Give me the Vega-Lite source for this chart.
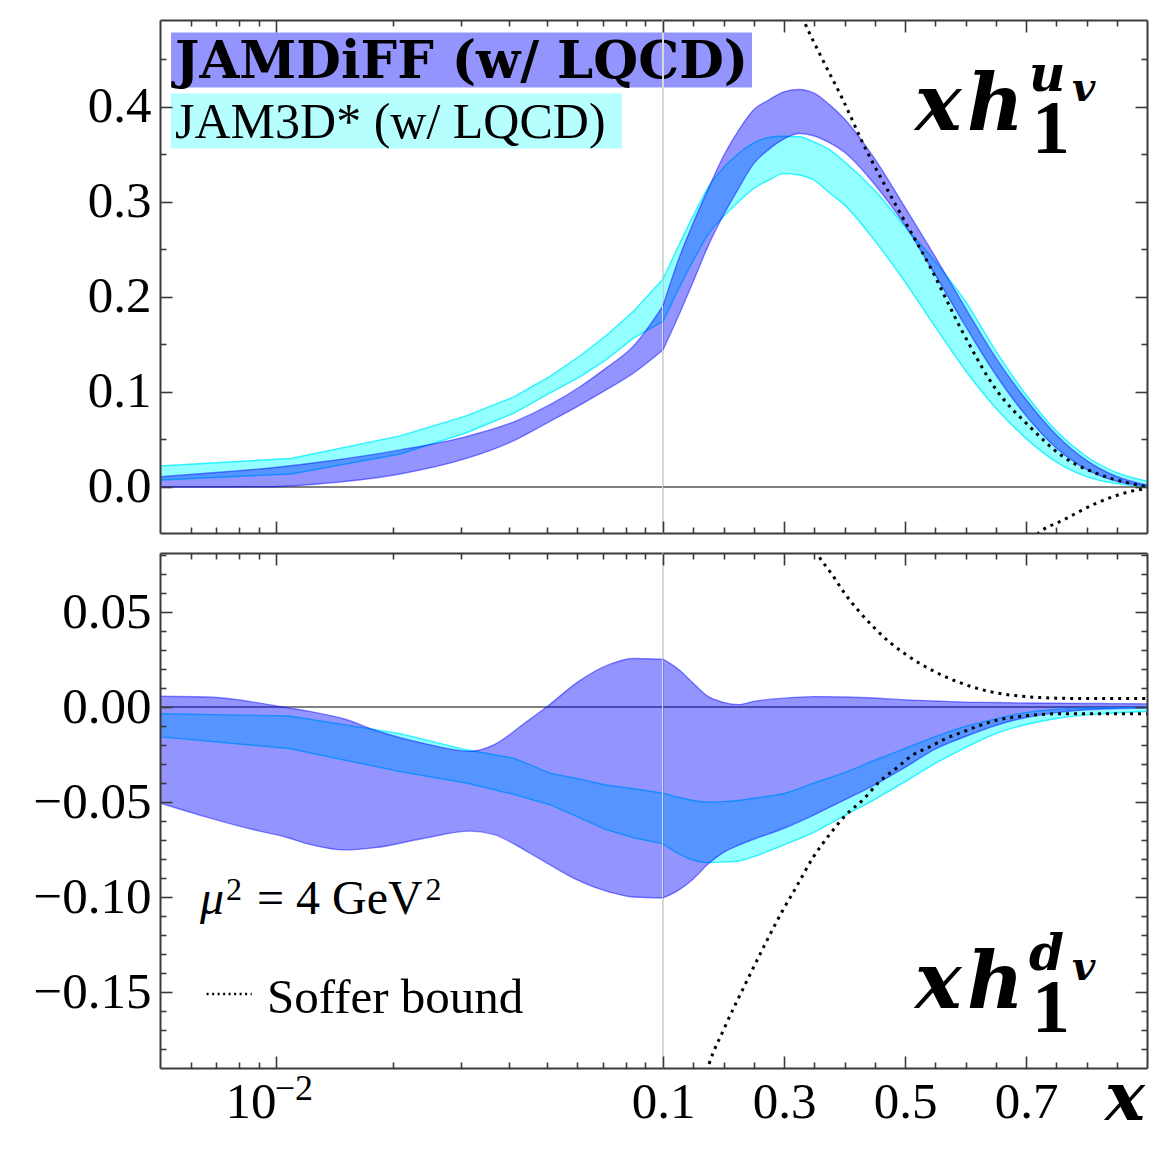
{
"$schema": "https://vega.github.io/schema/vega-lite/v6.json",
"background": "white",
"padding": {"left": 32, "top": 19, "right": 2, "bottom": 2},
"bounds": "flush",
"align": "each",
"columns": 2,
"spacing": {"row": 20, "column": 0},
"config": {
  "view": {"stroke": null},
  "axis": {"grid": false, "domainColor": "#3a3a3a", "tickColor": "#3a3a3a", "domainWidth": 2, "tickWidth": 1.6, "labelFont": "Liberation Serif", "labelFontSize": 51, "labelColor": "#000000", "labelFlush": false, "labelOverlap": false, "labelBound": false, "labelPadding": 9},
  "text": {"font": "Liberation Serif", "color": "#000000"}
},
"datasets": {
  "bands": [
    {"p":"u","s":"JAMDiFF","x":0.005,"lo":0.0,"hi":0.0108},
    {"p":"u","s":"JAMDiFF","x":0.0074,"lo":0.0,"hi":0.016},
    {"p":"u","s":"JAMDiFF","x":0.0099,"lo":0.0003,"hi":0.0205},
    {"p":"u","s":"JAMDiFF","x":0.0135,"lo":0.004,"hi":0.027},
    {"p":"u","s":"JAMDiFF","x":0.0209,"lo":0.0137,"hi":0.039},
    {"p":"u","s":"JAMDiFF","x":0.031,"lo":0.030,"hi":0.053},
    {"p":"u","s":"JAMDiFF","x":0.0413,"lo":0.049,"hi":0.0688},
    {"p":"u","s":"JAMDiFF","x":0.0509,"lo":0.0688,"hi":0.0863},
    {"p":"u","s":"JAMDiFF","x":0.0611,"lo":0.0863,"hi":0.1056},
    {"p":"u","s":"JAMDiFF","x":0.0712,"lo":0.102,"hi":0.125},
    {"p":"u","s":"JAMDiFF","x":0.0838,"lo":0.1196,"hi":0.148},
    {"p":"u","s":"JAMDiFF","x":0.1,"lo":0.144,"hi":0.1905},
    {"p":"u","s":"JAMDiFF","x":0.125,"lo":0.179,"hi":0.238},
    {"p":"u","s":"JAMDiFF","x":0.15,"lo":0.216,"hi":0.2776},
    {"p":"u","s":"JAMDiFF","x":0.175,"lo":0.254,"hi":0.3137},
    {"p":"u","s":"JAMDiFF","x":0.2,"lo":0.286,"hi":0.348},
    {"p":"u","s":"JAMDiFF","x":0.225,"lo":0.314,"hi":0.375},
    {"p":"u","s":"JAMDiFF","x":0.25,"lo":0.340,"hi":0.3966},
    {"p":"u","s":"JAMDiFF","x":0.275,"lo":0.355,"hi":0.407},
    {"p":"u","s":"JAMDiFF","x":0.3,"lo":0.366,"hi":0.4155},
    {"p":"u","s":"JAMDiFF","x":0.325,"lo":0.3716,"hi":0.418},
    {"p":"u","s":"JAMDiFF","x":0.35,"lo":0.369,"hi":0.414},
    {"p":"u","s":"JAMDiFF","x":0.375,"lo":0.362,"hi":0.402},
    {"p":"u","s":"JAMDiFF","x":0.4,"lo":0.352,"hi":0.387},
    {"p":"u","s":"JAMDiFF","x":0.45,"lo":0.318,"hi":0.345},
    {"p":"u","s":"JAMDiFF","x":0.5,"lo":0.275,"hi":0.294},
    {"p":"u","s":"JAMDiFF","x":0.55,"lo":0.223,"hi":0.242},
    {"p":"u","s":"JAMDiFF","x":0.6,"lo":0.169,"hi":0.188},
    {"p":"u","s":"JAMDiFF","x":0.65,"lo":0.118,"hi":0.136},
    {"p":"u","s":"JAMDiFF","x":0.7,"lo":0.075,"hi":0.092},
    {"p":"u","s":"JAMDiFF","x":0.75,"lo":0.041,"hi":0.055},
    {"p":"u","s":"JAMDiFF","x":0.8,"lo":0.0185,"hi":0.028},
    {"p":"u","s":"JAMDiFF","x":0.85,"lo":0.006,"hi":0.011},
    {"p":"u","s":"JAMDiFF","x":0.9,"lo":0.001,"hi":0.002},
    {"p":"u","s":"JAM3D","x":0.005,"lo":0.0074,"hi":0.0221},
    {"p":"u","s":"JAM3D","x":0.0109,"lo":0.0137,"hi":0.030},
    {"p":"u","s":"JAM3D","x":0.0209,"lo":0.0347,"hi":0.0537},
    {"p":"u","s":"JAM3D","x":0.031,"lo":0.057,"hi":0.0747},
    {"p":"u","s":"JAM3D","x":0.0413,"lo":0.078,"hi":0.095},
    {"p":"u","s":"JAM3D","x":0.0509,"lo":0.0986,"hi":0.116},
    {"p":"u","s":"JAM3D","x":0.0611,"lo":0.116,"hi":0.138},
    {"p":"u","s":"JAM3D","x":0.0712,"lo":0.1337,"hi":0.159},
    {"p":"u","s":"JAM3D","x":0.0838,"lo":0.1565,"hi":0.1846},
    {"p":"u","s":"JAM3D","x":0.1,"lo":0.174,"hi":0.2186},
    {"p":"u","s":"JAM3D","x":0.125,"lo":0.2073,"hi":0.2526},
    {"p":"u","s":"JAM3D","x":0.15,"lo":0.238,"hi":0.2851},
    {"p":"u","s":"JAM3D","x":0.175,"lo":0.266,"hi":0.3154},
    {"p":"u","s":"JAM3D","x":0.2,"lo":0.2843,"hi":0.3358},
    {"p":"u","s":"JAM3D","x":0.225,"lo":0.2999,"hi":0.3506},
    {"p":"u","s":"JAM3D","x":0.25,"lo":0.3138,"hi":0.3617},
    {"p":"u","s":"JAM3D","x":0.275,"lo":0.3228,"hi":0.3675},
    {"p":"u","s":"JAM3D","x":0.3,"lo":0.3295,"hi":0.3688},
    {"p":"u","s":"JAM3D","x":0.325,"lo":0.328,"hi":0.3683},
    {"p":"u","s":"JAM3D","x":0.35,"lo":0.3225,"hi":0.3627},
    {"p":"u","s":"JAM3D","x":0.375,"lo":0.3093,"hi":0.3547},
    {"p":"u","s":"JAM3D","x":0.4,"lo":0.2966,"hi":0.342},
    {"p":"u","s":"JAM3D","x":0.45,"lo":0.259,"hi":0.3117},
    {"p":"u","s":"JAM3D","x":0.5,"lo":0.2156,"hi":0.2739},
    {"p":"u","s":"JAM3D","x":0.55,"lo":0.1683,"hi":0.237},
    {"p":"u","s":"JAM3D","x":0.6,"lo":0.1225,"hi":0.195},
    {"p":"u","s":"JAM3D","x":0.65,"lo":0.0831,"hi":0.143},
    {"p":"u","s":"JAM3D","x":0.7,"lo":0.0511,"hi":0.097},
    {"p":"u","s":"JAM3D","x":0.75,"lo":0.0264,"hi":0.059},
    {"p":"u","s":"JAM3D","x":0.8,"lo":0.0109,"hi":0.032},
    {"p":"u","s":"JAM3D","x":0.85,"lo":0.0035,"hi":0.015},
    {"p":"u","s":"JAM3D","x":0.9,"lo":0.0004,"hi":0.006},
    {"p":"d","s":"JAMDiFF","x":0.005,"lo":-0.0505,"hi":0.0057},
    {"p":"d","s":"JAMDiFF","x":0.0067,"lo":-0.0583,"hi":0.0053},
    {"p":"d","s":"JAMDiFF","x":0.009,"lo":-0.0652,"hi":0.0022},
    {"p":"d","s":"JAMDiFF","x":0.0104,"lo":-0.068,"hi":0.0},
    {"p":"d","s":"JAMDiFF","x":0.0122,"lo":-0.0723,"hi":-0.0023},
    {"p":"d","s":"JAMDiFF","x":0.015,"lo":-0.0752,"hi":-0.0063},
    {"p":"d","s":"JAMDiFF","x":0.018,"lo":-0.074,"hi":-0.0122},
    {"p":"d","s":"JAMDiFF","x":0.0245,"lo":-0.0688,"hi":-0.0195},
    {"p":"d","s":"JAMDiFF","x":0.0316,"lo":-0.0653,"hi":-0.0233},
    {"p":"d","s":"JAMDiFF","x":0.0364,"lo":-0.067,"hi":-0.020},
    {"p":"d","s":"JAMDiFF","x":0.0443,"lo":-0.0758,"hi":-0.0078},
    {"p":"d","s":"JAMDiFF","x":0.05,"lo":-0.082,"hi":0.0},
    {"p":"d","s":"JAMDiFF","x":0.06,"lo":-0.091,"hi":0.013},
    {"p":"d","s":"JAMDiFF","x":0.073,"lo":-0.0975,"hi":0.0226},
    {"p":"d","s":"JAMDiFF","x":0.0837,"lo":-0.1,"hi":0.0256},
    {"p":"d","s":"JAMDiFF","x":0.1,"lo":-0.1005,"hi":0.0252},
    {"p":"d","s":"JAMDiFF","x":0.125,"lo":-0.0965,"hi":0.020},
    {"p":"d","s":"JAMDiFF","x":0.15,"lo":-0.0905,"hi":0.0125},
    {"p":"d","s":"JAMDiFF","x":0.175,"lo":-0.0825,"hi":0.0055},
    {"p":"d","s":"JAMDiFF","x":0.2,"lo":-0.0765,"hi":0.0025},
    {"p":"d","s":"JAMDiFF","x":0.225,"lo":-0.0727,"hi":0.0013},
    {"p":"d","s":"JAMDiFF","x":0.25,"lo":-0.0696,"hi":0.003},
    {"p":"d","s":"JAMDiFF","x":0.3,"lo":-0.0638,"hi":0.0047},
    {"p":"d","s":"JAMDiFF","x":0.35,"lo":-0.0567,"hi":0.0055},
    {"p":"d","s":"JAMDiFF","x":0.4,"lo":-0.0489,"hi":0.0053},
    {"p":"d","s":"JAMDiFF","x":0.45,"lo":-0.0409,"hi":0.0048},
    {"p":"d","s":"JAMDiFF","x":0.5,"lo":-0.0318,"hi":0.0038},
    {"p":"d","s":"JAMDiFF","x":0.55,"lo":-0.0221,"hi":0.0032},
    {"p":"d","s":"JAMDiFF","x":0.6,"lo":-0.0155,"hi":0.0026},
    {"p":"d","s":"JAMDiFF","x":0.65,"lo":-0.0097,"hi":0.0024},
    {"p":"d","s":"JAMDiFF","x":0.7,"lo":-0.0055,"hi":0.0021},
    {"p":"d","s":"JAMDiFF","x":0.75,"lo":-0.0029,"hi":0.002},
    {"p":"d","s":"JAMDiFF","x":0.8,"lo":-0.0014,"hi":0.0019},
    {"p":"d","s":"JAMDiFF","x":0.85,"lo":-0.0008,"hi":0.0018},
    {"p":"d","s":"JAMDiFF","x":0.9,"lo":-0.0005,"hi":0.0017},
    {"p":"d","s":"JAM3D","x":0.005,"lo":-0.0157,"hi":-0.0035},
    {"p":"d","s":"JAM3D","x":0.0108,"lo":-0.0218,"hi":-0.0047},
    {"p":"d","s":"JAM3D","x":0.0209,"lo":-0.034,"hi":-0.014},
    {"p":"d","s":"JAM3D","x":0.031,"lo":-0.040,"hi":-0.0225},
    {"p":"d","s":"JAM3D","x":0.0413,"lo":-0.0461,"hi":-0.027},
    {"p":"d","s":"JAM3D","x":0.051,"lo":-0.0514,"hi":-0.0348},
    {"p":"d","s":"JAM3D","x":0.061,"lo":-0.0583,"hi":-0.038},
    {"p":"d","s":"JAM3D","x":0.071,"lo":-0.0644,"hi":-0.041},
    {"p":"d","s":"JAM3D","x":0.084,"lo":-0.0688,"hi":-0.043},
    {"p":"d","s":"JAM3D","x":0.1,"lo":-0.072,"hi":-0.0453},
    {"p":"d","s":"JAM3D","x":0.125,"lo":-0.077,"hi":-0.0475},
    {"p":"d","s":"JAM3D","x":0.15,"lo":-0.0805,"hi":-0.0492},
    {"p":"d","s":"JAM3D","x":0.175,"lo":-0.0819,"hi":-0.05},
    {"p":"d","s":"JAM3D","x":0.2,"lo":-0.0815,"hi":-0.0498},
    {"p":"d","s":"JAM3D","x":0.225,"lo":-0.081,"hi":-0.0492},
    {"p":"d","s":"JAM3D","x":0.25,"lo":-0.0787,"hi":-0.048},
    {"p":"d","s":"JAM3D","x":0.3,"lo":-0.0725,"hi":-0.0455},
    {"p":"d","s":"JAM3D","x":0.35,"lo":-0.0658,"hi":-0.0399},
    {"p":"d","s":"JAM3D","x":0.4,"lo":-0.0571,"hi":-0.0345},
    {"p":"d","s":"JAM3D","x":0.45,"lo":-0.0486,"hi":-0.028},
    {"p":"d","s":"JAM3D","x":0.5,"lo":-0.0393,"hi":-0.0218},
    {"p":"d","s":"JAM3D","x":0.55,"lo":-0.0296,"hi":-0.0156},
    {"p":"d","s":"JAM3D","x":0.6,"lo":-0.0213,"hi":-0.0102},
    {"p":"d","s":"JAM3D","x":0.65,"lo":-0.014,"hi":-0.0062},
    {"p":"d","s":"JAM3D","x":0.7,"lo":-0.0092,"hi":-0.0029},
    {"p":"d","s":"JAM3D","x":0.75,"lo":-0.006,"hi":-0.0012},
    {"p":"d","s":"JAM3D","x":0.8,"lo":-0.0041,"hi":-0.0006},
    {"p":"d","s":"JAM3D","x":0.85,"lo":-0.003,"hi":-0.0003},
    {"p":"d","s":"JAM3D","x":0.9,"lo":-0.0023,"hi":0.0}
  ],
  "soffer": [
    {"p":"u","c":"up","x":0.32,"y":0.51},
    {"p":"u","c":"up","x":0.333,"y":0.49},
    {"p":"u","c":"up","x":0.364,"y":0.449},
    {"p":"u","c":"up","x":0.3975,"y":0.407},
    {"p":"u","c":"up","x":0.43,"y":0.362},
    {"p":"u","c":"up","x":0.486,"y":0.295},
    {"p":"u","c":"up","x":0.541,"y":0.232},
    {"p":"u","c":"up","x":0.596,"y":0.162},
    {"p":"u","c":"up","x":0.651,"y":0.102},
    {"p":"u","c":"up","x":0.706,"y":0.0635},
    {"p":"u","c":"up","x":0.761,"y":0.032},
    {"p":"u","c":"up","x":0.816,"y":0.0144},
    {"p":"u","c":"up","x":0.871,"y":0.0039},
    {"p":"u","c":"up","x":0.9,"y":0.0003},
    {"p":"u","c":"dn","x":0.7,"y":-0.062},
    {"p":"u","c":"dn","x":0.7215,"y":-0.048},
    {"p":"u","c":"dn","x":0.761,"y":-0.035},
    {"p":"u","c":"dn","x":0.816,"y":-0.0172},
    {"p":"u","c":"dn","x":0.871,"y":-0.005},
    {"p":"u","c":"dn","x":0.9,"y":-0.0014},
    {"p":"d","c":"up","x":0.34,"y":0.09},
    {"p":"d","c":"up","x":0.3545,"y":0.081},
    {"p":"d","c":"up","x":0.38,"y":0.0695},
    {"p":"d","c":"up","x":0.4,"y":0.06},
    {"p":"d","c":"up","x":0.425,"y":0.05},
    {"p":"d","c":"up","x":0.45,"y":0.0415},
    {"p":"d","c":"up","x":0.475,"y":0.034},
    {"p":"d","c":"up","x":0.5,"y":0.028},
    {"p":"d","c":"up","x":0.55,"y":0.0185},
    {"p":"d","c":"up","x":0.6,"y":0.0118},
    {"p":"d","c":"up","x":0.65,"y":0.0075},
    {"p":"d","c":"up","x":0.7,"y":0.0055},
    {"p":"d","c":"up","x":0.75,"y":0.0047},
    {"p":"d","c":"up","x":0.8,"y":0.0045},
    {"p":"d","c":"up","x":0.9,"y":0.0045},
    {"p":"d","c":"dn","x":0.165,"y":-0.2},
    {"p":"d","c":"dn","x":0.176,"y":-0.188},
    {"p":"d","c":"dn","x":0.2,"y":-0.17},
    {"p":"d","c":"dn","x":0.242,"y":-0.142},
    {"p":"d","c":"dn","x":0.27,"y":-0.124},
    {"p":"d","c":"dn","x":0.298,"y":-0.107},
    {"p":"d","c":"dn","x":0.32,"y":-0.0949},
    {"p":"d","c":"dn","x":0.348,"y":-0.0792},
    {"p":"d","c":"dn","x":0.3755,"y":-0.067},
    {"p":"d","c":"dn","x":0.403,"y":-0.0566},
    {"p":"d","c":"dn","x":0.4306,"y":-0.0488},
    {"p":"d","c":"dn","x":0.458,"y":-0.0392},
    {"p":"d","c":"dn","x":0.4856,"y":-0.0322},
    {"p":"d","c":"dn","x":0.513,"y":-0.0252},
    {"p":"d","c":"dn","x":0.541,"y":-0.0209},
    {"p":"d","c":"dn","x":0.568,"y":-0.0165},
    {"p":"d","c":"dn","x":0.596,"y":-0.013},
    {"p":"d","c":"dn","x":0.651,"y":-0.007},
    {"p":"d","c":"dn","x":0.706,"y":-0.0044},
    {"p":"d","c":"dn","x":0.761,"y":-0.0035},
    {"p":"d","c":"dn","x":0.9,"y":-0.0035}
  ]
},
"concat": [
{
  "width": 503, "height": 513,
  "resolve": {"axis": {"x": "independent", "y": "independent"}},
  "layer": [
    {"data": {"values": [{}]}, "mark": {"type": "rule", "color": "#808080", "strokeWidth": 2},
     "encoding": {"y": {"datum": 0, "type": "quantitative", "scale": {"type": "linear", "domain": [-0.0484, 0.491], "nice": false, "zero": false}, "axis": null}}},
    {"data": {"name": "bands"}, "transform": [{"filter": "datum.p=='u' && datum.s=='JAM3D' && datum.x<=0.1"}],
     "mark": {"type": "area", "color": "#00ffff", "opacity": 0.42, "interpolate": "linear"},
     "encoding": {
       "x": {"field": "x", "type": "quantitative", "scale": {"type": "log", "domain": [0.005, 0.1], "nice": false}, "axis": {"orient": "bottom", "values": [0.01], "labels": false, "tickSize": -12, "domain": true, "title": null, "zindex": 1}},
       "y": {"field": "lo", "type": "quantitative", "scale": {"type": "linear", "domain": [-0.0484, 0.491], "nice": false, "zero": false}, "axis": {"orient": "left", "values": [0, 0.1, 0.2, 0.3, 0.4], "labels": false, "tickSize": -12, "domain": true, "title": null, "zindex": 1}},
       "y2": {"field": "hi"}}},
    {"data": {"name": "bands"}, "transform": [{"filter": "datum.p=='u' && datum.s=='JAM3D' && datum.x<=0.1"}, {"fold": ["lo", "hi"], "as": ["k", "v"]}],
     "mark": {"type": "line", "color": "#00f0ff", "opacity": 0.8, "strokeWidth": 1.4, "interpolate": "linear"},
     "encoding": {
       "x": {"field": "x", "type": "quantitative", "scale": {"type": "log", "domain": [0.005, 0.1], "nice": false}, "axis": {"orient": "bottom", "values": [0.006, 0.007, 0.008, 0.009, 0.02, 0.03, 0.04, 0.05, 0.06, 0.07, 0.08, 0.09], "labels": false, "tickSize": -6, "domain": false, "title": null, "zindex": 1}},
       "y": {"field": "v", "type": "quantitative", "scale": {"type": "linear", "domain": [-0.0484, 0.491], "nice": false, "zero": false}, "axis": {"orient": "left", "values": [0.05, 0.15, 0.25, 0.35, 0.45], "labels": false, "tickSize": -6, "domain": false, "title": null, "zindex": 1}},
       "detail": {"field": "k"}}},
    {"data": {"name": "bands"}, "transform": [{"filter": "datum.p=='u' && datum.s=='JAMDiFF' && datum.x<=0.1"}],
     "mark": {"type": "area", "color": "#0000ff", "opacity": 0.42, "interpolate": "monotone"},
     "encoding": {
       "x": {"field": "x", "type": "quantitative", "scale": {"type": "log", "domain": [0.005, 0.1], "nice": false}, "axis": {"orient": "top", "values": [0.01], "labels": false, "tickSize": -12, "domain": true, "title": null, "zindex": 1}},
       "y": {"field": "lo", "type": "quantitative", "scale": {"type": "linear", "domain": [-0.0484, 0.491], "nice": false, "zero": false}, "axis": {"orient": "left", "values": [0, 0.1, 0.2, 0.3, 0.4], "format": ".1f", "ticks": false, "domain": false, "title": null}},
       "y2": {"field": "hi"}}},
    {"data": {"name": "bands"}, "transform": [{"filter": "datum.p=='u' && datum.s=='JAMDiFF' && datum.x<=0.1"}, {"fold": ["lo", "hi"], "as": ["k", "v"]}],
     "mark": {"type": "line", "color": "#0000ff", "opacity": 0.45, "strokeWidth": 1.4, "interpolate": "monotone"},
     "encoding": {
       "x": {"field": "x", "type": "quantitative", "scale": {"type": "log", "domain": [0.005, 0.1], "nice": false}, "axis": {"orient": "top", "values": [0.006, 0.007, 0.008, 0.009, 0.02, 0.03, 0.04, 0.05, 0.06, 0.07, 0.08, 0.09], "labels": false, "tickSize": -6, "domain": false, "title": null, "zindex": 1}},
       "y": {"field": "v", "type": "quantitative", "scale": {"type": "linear", "domain": [-0.0484, 0.491], "nice": false, "zero": false}, "axis": null},
       "detail": {"field": "k"}}},
    {"data": {"values": [{}]}, "mark": {"type": "rect", "color": "#0000ff", "opacity": 0.42},
     "encoding": {"x": {"datum": 0.00534, "type": "quantitative", "scale": {"type": "log", "domain": [0.005, 0.1], "nice": false}, "axis": null}, "x2": {"datum": 0.1699},
       "y": {"datum": 0.4779, "type": "quantitative", "scale": {"type": "linear", "domain": [-0.0484, 0.491], "nice": false, "zero": false}, "axis": null}, "y2": {"datum": 0.42}}},
    {"data": {"values": [{}]}, "mark": {"type": "rect", "color": "#00ffff", "opacity": 0.29},
     "encoding": {"x": {"datum": 0.00534, "type": "quantitative", "scale": {"type": "log", "domain": [0.005, 0.1], "nice": false}, "axis": null}, "x2": {"datum": 0.07834},
       "y": {"datum": 0.4137, "type": "quantitative", "scale": {"type": "linear", "domain": [-0.0484, 0.491], "nice": false, "zero": false}, "axis": null}, "y2": {"datum": 0.3558}}},
    {"data": {"values": [{}]}, "mark": {"type": "text", "text": "JAMDiFF (w/ LQCD)", "font": "DejaVu Serif", "fontSize": 51.5, "fontWeight": "bold", "align": "left", "baseline": "alphabetic"},
     "encoding": {"x": {"datum": 0.005468, "type": "quantitative", "scale": {"type": "log", "domain": [0.005, 0.1], "nice": false}, "axis": null},
       "y": {"datum": 0.4305, "type": "quantitative", "scale": {"type": "linear", "domain": [-0.0484, 0.491], "nice": false, "zero": false}, "axis": null}}},
    {"data": {"values": [{}]}, "mark": {"type": "text", "text": "JAM3D* (w/ LQCD)", "fontSize": 50, "align": "left", "baseline": "alphabetic"},
     "encoding": {"x": {"datum": 0.005468, "type": "quantitative", "scale": {"type": "log", "domain": [0.005, 0.1], "nice": false}, "axis": null},
       "y": {"datum": 0.3674, "type": "quantitative", "scale": {"type": "linear", "domain": [-0.0484, 0.491], "nice": false, "zero": false}, "axis": null}}}
  ]
},
{
  "width": 484, "height": 513,
  "resolve": {"axis": {"x": "independent", "y": "independent"}},
  "layer": [
    {"data": {"values": [{}]}, "mark": {"type": "rule", "color": "#d8d8d8", "strokeWidth": 2},
     "encoding": {"x": {"datum": 0.1, "type": "quantitative", "scale": {"type": "linear", "domain": [0.1, 0.9], "nice": false, "zero": false}, "axis": null}}},
    {"data": {"values": [{}]}, "mark": {"type": "rule", "color": "#808080", "strokeWidth": 2},
     "encoding": {"y": {"datum": 0, "type": "quantitative", "scale": {"type": "linear", "domain": [-0.0484, 0.491], "nice": false, "zero": false}, "axis": null}}},
    {"data": {"name": "bands"}, "transform": [{"filter": "datum.p=='u' && datum.s=='JAM3D' && datum.x>=0.1"}],
     "mark": {"type": "area", "color": "#00ffff", "opacity": 0.42, "interpolate": "monotone"},
     "encoding": {
       "x": {"field": "x", "type": "quantitative", "scale": {"type": "linear", "domain": [0.1, 0.9], "nice": false, "zero": false}, "axis": {"orient": "bottom", "values": [0.1, 0.3, 0.5, 0.7], "labels": false, "tickSize": -12, "domain": true, "title": null, "zindex": 1}},
       "y": {"field": "lo", "type": "quantitative", "scale": {"type": "linear", "domain": [-0.0484, 0.491], "nice": false, "zero": false}, "axis": {"orient": "right", "values": [0, 0.1, 0.2, 0.3, 0.4], "labels": false, "tickSize": -12, "domain": true, "title": null, "zindex": 1}},
       "y2": {"field": "hi"}}},
    {"data": {"name": "bands"}, "transform": [{"filter": "datum.p=='u' && datum.s=='JAM3D' && datum.x>=0.1"}, {"fold": ["lo", "hi"], "as": ["k", "v"]}],
     "mark": {"type": "line", "color": "#00f0ff", "opacity": 0.8, "strokeWidth": 1.4, "interpolate": "monotone"},
     "encoding": {
       "x": {"field": "x", "type": "quantitative", "scale": {"type": "linear", "domain": [0.1, 0.9], "nice": false, "zero": false}, "axis": {"orient": "bottom", "values": [0.15, 0.2, 0.25, 0.35, 0.4, 0.45, 0.55, 0.6, 0.65, 0.75, 0.8, 0.85], "labels": false, "tickSize": -6, "domain": false, "title": null, "zindex": 1}},
       "y": {"field": "v", "type": "quantitative", "scale": {"type": "linear", "domain": [-0.0484, 0.491], "nice": false, "zero": false}, "axis": {"orient": "right", "values": [0.05, 0.15, 0.25, 0.35, 0.45], "labels": false, "tickSize": -6, "domain": false, "title": null, "zindex": 1}},
       "detail": {"field": "k"}}},
    {"data": {"name": "bands"}, "transform": [{"filter": "datum.p=='u' && datum.s=='JAMDiFF' && datum.x>=0.1"}],
     "mark": {"type": "area", "color": "#0000ff", "opacity": 0.42, "interpolate": "monotone"},
     "encoding": {
       "x": {"field": "x", "type": "quantitative", "scale": {"type": "linear", "domain": [0.1, 0.9], "nice": false, "zero": false}, "axis": {"orient": "top", "values": [0.1, 0.3, 0.5, 0.7], "labels": false, "tickSize": -12, "domain": true, "title": null, "zindex": 1}},
       "y": {"field": "lo", "type": "quantitative", "scale": {"type": "linear", "domain": [-0.0484, 0.491], "nice": false, "zero": false}, "axis": null},
       "y2": {"field": "hi"}}},
    {"data": {"name": "bands"}, "transform": [{"filter": "datum.p=='u' && datum.s=='JAMDiFF' && datum.x>=0.1"}, {"fold": ["lo", "hi"], "as": ["k", "v"]}],
     "mark": {"type": "line", "color": "#0000ff", "opacity": 0.45, "strokeWidth": 1.4, "interpolate": "monotone"},
     "encoding": {
       "x": {"field": "x", "type": "quantitative", "scale": {"type": "linear", "domain": [0.1, 0.9], "nice": false, "zero": false}, "axis": {"orient": "top", "values": [0.15, 0.2, 0.25, 0.35, 0.4, 0.45, 0.55, 0.6, 0.65, 0.75, 0.8, 0.85], "labels": false, "tickSize": -6, "domain": false, "title": null, "zindex": 1}},
       "y": {"field": "v", "type": "quantitative", "scale": {"type": "linear", "domain": [-0.0484, 0.491], "nice": false, "zero": false}, "axis": null},
       "detail": {"field": "k"}}},
    {"data": {"name": "soffer"}, "transform": [{"filter": "datum.p=='u'"}],
     "mark": {"type": "line", "color": "#000000", "strokeWidth": 3, "strokeDash": [3, 5], "interpolate": "monotone", "clip": true},
     "encoding": {
       "x": {"field": "x", "type": "quantitative", "scale": {"type": "linear", "domain": [0.1, 0.9], "nice": false, "zero": false}, "axis": null},
       "y": {"field": "y", "type": "quantitative", "scale": {"type": "linear", "domain": [-0.0484, 0.491], "nice": false, "zero": false}, "axis": null},
       "detail": {"field": "c"}}},
    {"data": {"values": [{}]}, "mark": {"type": "text", "text": "x", "font": "DejaVu Serif", "fontSize": 78, "fontWeight": "bold", "fontStyle": "italic", "align": "left", "baseline": "alphabetic"},
     "encoding": {"x": {"datum": 0.5165, "type": "quantitative", "scale": {"type": "linear", "domain": [0.1, 0.9], "nice": false, "zero": false}, "axis": null},
       "y": {"datum": 0.3758, "type": "quantitative", "scale": {"type": "linear", "domain": [-0.0484, 0.491], "nice": false, "zero": false}, "axis": null}}},
    {"data": {"values": [{}]}, "mark": {"type": "text", "text": "h", "font": "DejaVu Serif", "fontSize": 78, "fontWeight": "bold", "fontStyle": "italic", "align": "left", "baseline": "alphabetic"},
     "encoding": {"x": {"datum": 0.6025, "type": "quantitative", "scale": {"type": "linear", "domain": [0.1, 0.9], "nice": false, "zero": false}, "axis": null},
       "y": {"datum": 0.3758, "type": "quantitative", "scale": {"type": "linear", "domain": [-0.0484, 0.491], "nice": false, "zero": false}, "axis": null}}},
    {"data": {"values": [{}]}, "mark": {"type": "text", "text": "1", "fontSize": 76, "fontWeight": "bold", "align": "left", "baseline": "alphabetic"},
     "encoding": {"x": {"datum": 0.71, "type": "quantitative", "scale": {"type": "linear", "domain": [0.1, 0.9], "nice": false, "zero": false}, "axis": null},
       "y": {"datum": 0.3513, "type": "quantitative", "scale": {"type": "linear", "domain": [-0.0484, 0.491], "nice": false, "zero": false}, "axis": null}}},
    {"data": {"values": [{}]}, "mark": {"type": "text", "text": "u", "font": "DejaVu Serif", "fontSize": 50, "fontWeight": "bold", "fontStyle": "italic", "align": "left", "baseline": "alphabetic"},
     "encoding": {"x": {"datum": 0.705, "type": "quantitative", "scale": {"type": "linear", "domain": [0.1, 0.9], "nice": false, "zero": false}, "axis": null},
       "y": {"datum": 0.4161, "type": "quantitative", "scale": {"type": "linear", "domain": [-0.0484, 0.491], "nice": false, "zero": false}, "axis": null}}},
    {"data": {"values": [{}]}, "mark": {"type": "text", "text": "v", "font": "DejaVu Serif", "fontSize": 40, "fontWeight": "bold", "fontStyle": "italic", "align": "left", "baseline": "alphabetic"},
     "encoding": {"x": {"datum": 0.776, "type": "quantitative", "scale": {"type": "linear", "domain": [0.1, 0.9], "nice": false, "zero": false}, "axis": null},
       "y": {"datum": 0.4056, "type": "quantitative", "scale": {"type": "linear", "domain": [-0.0484, 0.491], "nice": false, "zero": false}, "axis": null}}}
  ]
},
{
  "width": 503, "height": 515,
  "resolve": {"axis": {"x": "independent", "y": "independent"}},
  "layer": [
    {"data": {"values": [{}]}, "mark": {"type": "rule", "color": "#808080", "strokeWidth": 2},
     "encoding": {"y": {"datum": 0, "type": "quantitative", "scale": {"type": "linear", "domain": [-0.19, 0.0811], "nice": false, "zero": false}, "axis": null}}},
    {"data": {"name": "bands"}, "transform": [{"filter": "datum.p=='d' && datum.s=='JAM3D' && datum.x<=0.1"}],
     "mark": {"type": "area", "color": "#00ffff", "opacity": 0.42, "interpolate": "linear"},
     "encoding": {
       "x": {"field": "x", "type": "quantitative", "scale": {"type": "log", "domain": [0.005, 0.1], "nice": false}, "axis": {"orient": "bottom", "values": [0.01], "labels": false, "tickSize": -12, "domain": true, "title": null, "zindex": 1}},
       "y": {"field": "lo", "type": "quantitative", "scale": {"type": "linear", "domain": [-0.19, 0.0811], "nice": false, "zero": false}, "axis": {"orient": "left", "values": [-0.15, -0.1, -0.05, 0, 0.05], "labels": false, "tickSize": -12, "domain": true, "title": null, "zindex": 1}},
       "y2": {"field": "hi"}}},
    {"data": {"name": "bands"}, "transform": [{"filter": "datum.p=='d' && datum.s=='JAM3D' && datum.x<=0.1"}, {"fold": ["lo", "hi"], "as": ["k", "v"]}],
     "mark": {"type": "line", "color": "#00f0ff", "opacity": 0.8, "strokeWidth": 1.4, "interpolate": "linear"},
     "encoding": {
       "x": {"field": "x", "type": "quantitative", "scale": {"type": "log", "domain": [0.005, 0.1], "nice": false}, "axis": {"orient": "bottom", "values": [0.006, 0.007, 0.008, 0.009, 0.02, 0.03, 0.04, 0.05, 0.06, 0.07, 0.08, 0.09], "labels": false, "tickSize": -6, "domain": false, "title": null, "zindex": 1}},
       "y": {"field": "v", "type": "quantitative", "scale": {"type": "linear", "domain": [-0.19, 0.0811], "nice": false, "zero": false}, "axis": {"orient": "left", "values": [-0.18, -0.17, -0.16, -0.14, -0.13, -0.12, -0.11, -0.09, -0.08, -0.07, -0.06, -0.04, -0.03, -0.02, -0.01, 0.01, 0.02, 0.03, 0.04, 0.06, 0.07, 0.08], "labels": false, "tickSize": -6, "domain": false, "title": null, "zindex": 1}},
       "detail": {"field": "k"}}},
    {"data": {"name": "bands"}, "transform": [{"filter": "datum.p=='d' && datum.s=='JAMDiFF' && datum.x<=0.1"}],
     "mark": {"type": "area", "color": "#0000ff", "opacity": 0.42, "interpolate": "monotone"},
     "encoding": {
       "x": {"field": "x", "type": "quantitative", "scale": {"type": "log", "domain": [0.005, 0.1], "nice": false}, "axis": {"orient": "top", "values": [0.01], "labels": false, "tickSize": -12, "domain": true, "title": null, "zindex": 1}},
       "y": {"field": "lo", "type": "quantitative", "scale": {"type": "linear", "domain": [-0.19, 0.0811], "nice": false, "zero": false}, "axis": {"orient": "left", "values": [-0.15, -0.1, -0.05, 0, 0.05], "format": ".2f", "ticks": false, "domain": false, "title": null}},
       "y2": {"field": "hi"}}},
    {"data": {"name": "bands"}, "transform": [{"filter": "datum.p=='d' && datum.s=='JAMDiFF' && datum.x<=0.1"}, {"fold": ["lo", "hi"], "as": ["k", "v"]}],
     "mark": {"type": "line", "color": "#0000ff", "opacity": 0.45, "strokeWidth": 1.4, "interpolate": "monotone"},
     "encoding": {
       "x": {"field": "x", "type": "quantitative", "scale": {"type": "log", "domain": [0.005, 0.1], "nice": false}, "axis": {"orient": "top", "values": [0.006, 0.007, 0.008, 0.009, 0.02, 0.03, 0.04, 0.05, 0.06, 0.07, 0.08, 0.09], "labels": false, "tickSize": -6, "domain": false, "title": null, "zindex": 1}},
       "y": {"field": "v", "type": "quantitative", "scale": {"type": "linear", "domain": [-0.19, 0.0811], "nice": false, "zero": false}, "axis": null},
       "detail": {"field": "k"}}},
    {"data": {"values": [{}]}, "mark": {"type": "rule", "color": "#000000", "strokeWidth": 2.5, "strokeDash": [2, 3.5]},
     "encoding": {"x": {"datum": 0.0066, "type": "quantitative", "scale": {"type": "log", "domain": [0.005, 0.1], "nice": false}, "axis": {"orient": "bottom", "values": [0.01], "ticks": false, "domain": false, "labelExpr": "'10'", "labelOffset": -26, "title": null}},
       "x2": {"datum": 0.008634},
       "y": {"datum": -0.151, "type": "quantitative", "scale": {"type": "linear", "domain": [-0.19, 0.0811], "nice": false, "zero": false}, "axis": null}}},
    {"data": {"values": [{}]}, "mark": {"type": "text", "text": "−2", "fontSize": 36, "align": "left", "baseline": "alphabetic"},
     "encoding": {"x": {"datum": 0.0099, "type": "quantitative", "scale": {"type": "log", "domain": [0.005, 0.1], "nice": false}, "axis": null},
       "y": {"datum": -0.2068, "type": "quantitative", "scale": {"type": "linear", "domain": [-0.19, 0.0811], "nice": false, "zero": false}, "axis": null}}},
    {"data": {"values": [{}]}, "mark": {"type": "text", "text": "μ", "fontSize": 48, "fontStyle": "italic", "align": "left", "baseline": "alphabetic"},
     "encoding": {"x": {"datum": 0.006345, "type": "quantitative", "scale": {"type": "log", "domain": [0.005, 0.1], "nice": false}, "axis": null},
       "y": {"datum": -0.1089, "type": "quantitative", "scale": {"type": "linear", "domain": [-0.19, 0.0811], "nice": false, "zero": false}, "axis": null}}},
    {"data": {"values": [{}]}, "mark": {"type": "text", "text": "2", "fontSize": 32, "align": "left", "baseline": "alphabetic"},
     "encoding": {"x": {"datum": 0.007409, "type": "quantitative", "scale": {"type": "log", "domain": [0.005, 0.1], "nice": false}, "axis": null},
       "y": {"datum": -0.1016, "type": "quantitative", "scale": {"type": "linear", "domain": [-0.19, 0.0811], "nice": false, "zero": false}, "axis": null}}},
    {"data": {"values": [{}]}, "mark": {"type": "text", "text": "= 4 GeV", "fontSize": 48, "align": "left", "baseline": "alphabetic"},
     "encoding": {"x": {"datum": 0.008911, "type": "quantitative", "scale": {"type": "log", "domain": [0.005, 0.1], "nice": false}, "axis": null},
       "y": {"datum": -0.1089, "type": "quantitative", "scale": {"type": "linear", "domain": [-0.19, 0.0811], "nice": false, "zero": false}, "axis": null}}},
    {"data": {"values": [{}]}, "mark": {"type": "text", "text": "2", "fontSize": 32, "align": "left", "baseline": "alphabetic"},
     "encoding": {"x": {"datum": 0.02432, "type": "quantitative", "scale": {"type": "log", "domain": [0.005, 0.1], "nice": false}, "axis": null},
       "y": {"datum": -0.1016, "type": "quantitative", "scale": {"type": "linear", "domain": [-0.19, 0.0811], "nice": false, "zero": false}, "axis": null}}},
    {"data": {"values": [{}]}, "mark": {"type": "text", "text": "Soffer bound", "fontSize": 49, "align": "left", "baseline": "alphabetic"},
     "encoding": {"x": {"datum": 0.009457, "type": "quantitative", "scale": {"type": "log", "domain": [0.005, 0.1], "nice": false}, "axis": null},
       "y": {"datum": -0.1609, "type": "quantitative", "scale": {"type": "linear", "domain": [-0.19, 0.0811], "nice": false, "zero": false}, "axis": null}}}
  ]
},
{
  "width": 484, "height": 515,
  "resolve": {"axis": {"x": "independent", "y": "independent"}},
  "layer": [
    {"data": {"values": [{}]}, "mark": {"type": "rule", "color": "#d8d8d8", "strokeWidth": 2},
     "encoding": {"x": {"datum": 0.1, "type": "quantitative", "scale": {"type": "linear", "domain": [0.1, 0.9], "nice": false, "zero": false}, "axis": null}}},
    {"data": {"values": [{}]}, "mark": {"type": "rule", "color": "#808080", "strokeWidth": 2},
     "encoding": {"y": {"datum": 0, "type": "quantitative", "scale": {"type": "linear", "domain": [-0.19, 0.0811], "nice": false, "zero": false}, "axis": null}}},
    {"data": {"name": "bands"}, "transform": [{"filter": "datum.p=='d' && datum.s=='JAM3D' && datum.x>=0.1"}],
     "mark": {"type": "area", "color": "#00ffff", "opacity": 0.42, "interpolate": "monotone"},
     "encoding": {
       "x": {"field": "x", "type": "quantitative", "scale": {"type": "linear", "domain": [0.1, 0.9], "nice": false, "zero": false}, "axis": {"orient": "bottom", "values": [0.1, 0.3, 0.5, 0.7], "labels": false, "tickSize": -12, "domain": true, "title": null, "zindex": 1}},
       "y": {"field": "lo", "type": "quantitative", "scale": {"type": "linear", "domain": [-0.19, 0.0811], "nice": false, "zero": false}, "axis": {"orient": "right", "values": [-0.15, -0.1, -0.05, 0, 0.05], "labels": false, "tickSize": -12, "domain": true, "title": null, "zindex": 1}},
       "y2": {"field": "hi"}}},
    {"data": {"name": "bands"}, "transform": [{"filter": "datum.p=='d' && datum.s=='JAM3D' && datum.x>=0.1"}, {"fold": ["lo", "hi"], "as": ["k", "v"]}],
     "mark": {"type": "line", "color": "#00f0ff", "opacity": 0.8, "strokeWidth": 1.4, "interpolate": "monotone"},
     "encoding": {
       "x": {"field": "x", "type": "quantitative", "scale": {"type": "linear", "domain": [0.1, 0.9], "nice": false, "zero": false}, "axis": {"orient": "bottom", "values": [0.15, 0.2, 0.25, 0.35, 0.4, 0.45, 0.55, 0.6, 0.65, 0.75, 0.8, 0.85], "labels": false, "tickSize": -6, "domain": false, "title": null, "zindex": 1}},
       "y": {"field": "v", "type": "quantitative", "scale": {"type": "linear", "domain": [-0.19, 0.0811], "nice": false, "zero": false}, "axis": {"orient": "right", "values": [-0.18, -0.17, -0.16, -0.14, -0.13, -0.12, -0.11, -0.09, -0.08, -0.07, -0.06, -0.04, -0.03, -0.02, -0.01, 0.01, 0.02, 0.03, 0.04, 0.06, 0.07, 0.08], "labels": false, "tickSize": -6, "domain": false, "title": null, "zindex": 1}},
       "detail": {"field": "k"}}},
    {"data": {"name": "bands"}, "transform": [{"filter": "datum.p=='d' && datum.s=='JAMDiFF' && datum.x>=0.1"}],
     "mark": {"type": "area", "color": "#0000ff", "opacity": 0.42, "interpolate": "monotone"},
     "encoding": {
       "x": {"field": "x", "type": "quantitative", "scale": {"type": "linear", "domain": [0.1, 0.9], "nice": false, "zero": false}, "axis": {"orient": "top", "values": [0.1, 0.3, 0.5, 0.7], "labels": false, "tickSize": -12, "domain": true, "title": null, "zindex": 1}},
       "y": {"field": "lo", "type": "quantitative", "scale": {"type": "linear", "domain": [-0.19, 0.0811], "nice": false, "zero": false}, "axis": null},
       "y2": {"field": "hi"}}},
    {"data": {"name": "bands"}, "transform": [{"filter": "datum.p=='d' && datum.s=='JAMDiFF' && datum.x>=0.1"}, {"fold": ["lo", "hi"], "as": ["k", "v"]}],
     "mark": {"type": "line", "color": "#0000ff", "opacity": 0.45, "strokeWidth": 1.4, "interpolate": "monotone"},
     "encoding": {
       "x": {"field": "x", "type": "quantitative", "scale": {"type": "linear", "domain": [0.1, 0.9], "nice": false, "zero": false}, "axis": {"orient": "top", "values": [0.15, 0.2, 0.25, 0.35, 0.4, 0.45, 0.55, 0.6, 0.65, 0.75, 0.8, 0.85], "labels": false, "tickSize": -6, "domain": false, "title": null, "zindex": 1}},
       "y": {"field": "v", "type": "quantitative", "scale": {"type": "linear", "domain": [-0.19, 0.0811], "nice": false, "zero": false}, "axis": null},
       "detail": {"field": "k"}}},
    {"data": {"name": "soffer"}, "transform": [{"filter": "datum.p=='d'"}],
     "mark": {"type": "line", "color": "#000000", "strokeWidth": 3, "strokeDash": [3, 5], "interpolate": "monotone", "clip": true},
     "encoding": {
       "x": {"field": "x", "type": "quantitative", "scale": {"type": "linear", "domain": [0.1, 0.9], "nice": false, "zero": false}, "axis": {"orient": "bottom", "values": [0.1, 0.3, 0.5, 0.7], "format": ".1f", "ticks": false, "domain": false, "title": null}},
       "y": {"field": "y", "type": "quantitative", "scale": {"type": "linear", "domain": [-0.19, 0.0811], "nice": false, "zero": false}, "axis": null},
       "detail": {"field": "c"}}},
    {"data": {"values": [{}]}, "mark": {"type": "text", "text": "x", "font": "DejaVu Serif", "fontSize": 78, "fontWeight": "bold", "fontStyle": "italic", "align": "left", "baseline": "alphabetic"},
     "encoding": {"x": {"datum": 0.5165, "type": "quantitative", "scale": {"type": "linear", "domain": [0.1, 0.9], "nice": false, "zero": false}, "axis": null},
       "y": {"datum": -0.1586, "type": "quantitative", "scale": {"type": "linear", "domain": [-0.19, 0.0811], "nice": false, "zero": false}, "axis": null}}},
    {"data": {"values": [{}]}, "mark": {"type": "text", "text": "h", "font": "DejaVu Serif", "fontSize": 78, "fontWeight": "bold", "fontStyle": "italic", "align": "left", "baseline": "alphabetic"},
     "encoding": {"x": {"datum": 0.6025, "type": "quantitative", "scale": {"type": "linear", "domain": [0.1, 0.9], "nice": false, "zero": false}, "axis": null},
       "y": {"datum": -0.1586, "type": "quantitative", "scale": {"type": "linear", "domain": [-0.19, 0.0811], "nice": false, "zero": false}, "axis": null}}},
    {"data": {"values": [{}]}, "mark": {"type": "text", "text": "1", "fontSize": 76, "fontWeight": "bold", "align": "left", "baseline": "alphabetic"},
     "encoding": {"x": {"datum": 0.71, "type": "quantitative", "scale": {"type": "linear", "domain": [0.1, 0.9], "nice": false, "zero": false}, "axis": null},
       "y": {"datum": -0.1709, "type": "quantitative", "scale": {"type": "linear", "domain": [-0.19, 0.0811], "nice": false, "zero": false}, "axis": null}}},
    {"data": {"values": [{}]}, "mark": {"type": "text", "text": "d", "font": "DejaVu Serif", "fontSize": 50, "fontWeight": "bold", "fontStyle": "italic", "align": "left", "baseline": "alphabetic"},
     "encoding": {"x": {"datum": 0.705, "type": "quantitative", "scale": {"type": "linear", "domain": [0.1, 0.9], "nice": false, "zero": false}, "axis": null},
       "y": {"datum": -0.1384, "type": "quantitative", "scale": {"type": "linear", "domain": [-0.19, 0.0811], "nice": false, "zero": false}, "axis": null}}},
    {"data": {"values": [{}]}, "mark": {"type": "text", "text": "v", "font": "DejaVu Serif", "fontSize": 40, "fontWeight": "bold", "fontStyle": "italic", "align": "left", "baseline": "alphabetic"},
     "encoding": {"x": {"datum": 0.776, "type": "quantitative", "scale": {"type": "linear", "domain": [0.1, 0.9], "nice": false, "zero": false}, "axis": null},
       "y": {"datum": -0.1437, "type": "quantitative", "scale": {"type": "linear", "domain": [-0.19, 0.0811], "nice": false, "zero": false}, "axis": null}}},
    {"data": {"values": [{}]}, "mark": {"type": "text", "text": "x", "font": "DejaVu Serif", "fontSize": 67, "fontWeight": "bold", "fontStyle": "italic", "align": "right", "baseline": "alphabetic"},
     "encoding": {"x": {"datum": 0.8967, "type": "quantitative", "scale": {"type": "linear", "domain": [0.1, 0.9], "nice": false, "zero": false}, "axis": null},
       "y": {"datum": -0.2174, "type": "quantitative", "scale": {"type": "linear", "domain": [-0.19, 0.0811], "nice": false, "zero": false}, "axis": null}}}
  ]
}
]
}
